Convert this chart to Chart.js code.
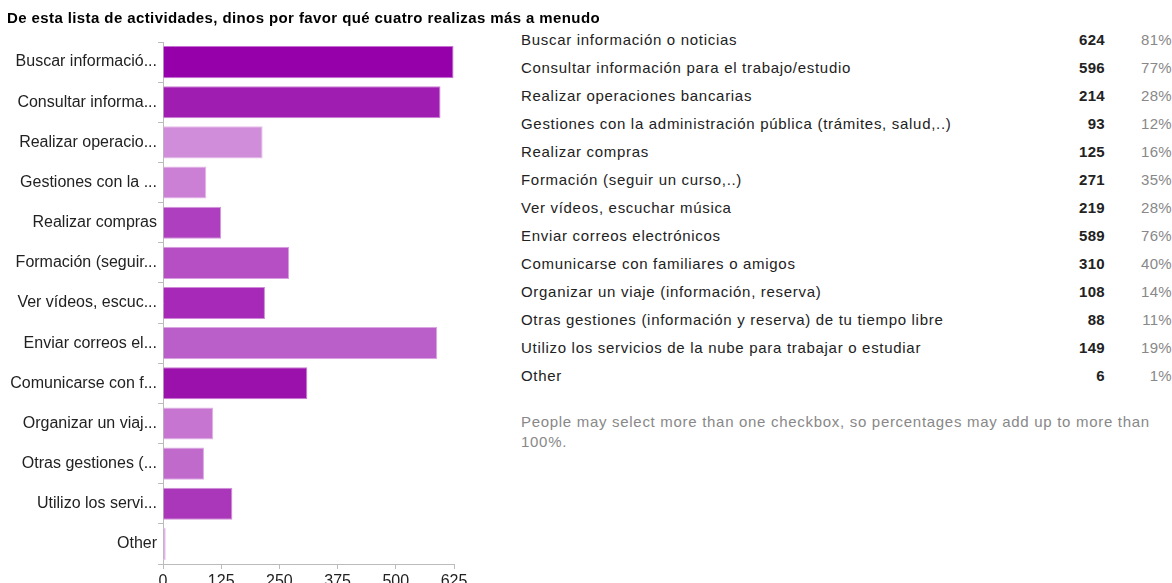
<!DOCTYPE html>
<html>
<head>
<meta charset="utf-8">
<script src="https://cdn.jsdelivr.net/npm/chart.js@4"></script>
<style>
  html, body { margin: 0; padding: 0; background: #fff; width: 1172px; height: 583px; overflow: hidden; font-family: "Liberation Sans", Arial, sans-serif; }
  #title { position: absolute; left: 7px; top: 9px; font-size: 15px; letter-spacing: 0.4px; font-weight: bold; color: #000; z-index: 2; white-space: nowrap; }
  #chartBox { position: absolute; left: 0; top: 0; width: 480px; height: 583px; }
  #table { position: absolute; left: 521px; top: 26px; width: 651px; font-size: 15px; letter-spacing: 0.7px; color: #222; }
  .row { display: flex; height: 28px; line-height: 28px; }
  .lab { flex: 1; white-space: nowrap; }
  .cnt { width: 60px; text-align: right; font-weight: bold; letter-spacing: 0.3px; }
  .pct { width: 67px; text-align: right; color: #888; letter-spacing: 0.3px; }
  #note { margin-top: 22px; color: #888; line-height: 20px; width: 640px; }
</style>
</head>
<body>
<div id="title">De esta lista de actividades, dinos por favor qué cuatro realizas más a menudo</div>
<div id="chartBox"><canvas id="c"></canvas></div>
<div id="table"></div>
<script>
const categories = [
  "Buscar información o noticias",
  "Consultar información para el trabajo/estudio",
  "Realizar operaciones bancarias",
  "Gestiones con la administración pública (trámites, salud,..)",
  "Realizar compras",
  "Formación (seguir un curso,..)",
  "Ver vídeos, escuchar música",
  "Enviar correos electrónicos",
  "Comunicarse con familiares o amigos",
  "Organizar un viaje (información, reserva)",
  "Otras gestiones (información y reserva) de tu tiempo libre",
  "Utilizo los servicios de la nube para trabajar o estudiar",
  "Other"
];
const axisLabels = [
  "Buscar informació...",
  "Consultar informa...",
  "Realizar operacio...",
  "Gestiones con la ...",
  "Realizar compras",
  "Formación (seguir...",
  "Ver vídeos, escuc...",
  "Enviar correos el...",
  "Comunicarse con f...",
  "Organizar un viaj...",
  "Otras gestiones (...",
  "Utilizo los servi...",
  "Other"
];
const counts = [624, 596, 214, 93, 125, 271, 219, 589, 310, 108, 88, 149, 6];
const percents = ["81%", "77%", "28%", "12%", "16%", "35%", "28%", "76%", "40%", "14%", "11%", "19%", "1%"];
const barColors = ["#9600aa", "#a01db1", "#d08dd9", "#cb7fd5", "#ae40bf", "#b64ec4", "#a62ab7", "#ba5ec9", "#9a12ab", "#c676d1", "#c06acc", "#aa36ba", "#d9a2e1"];
const xTicks = [0, 125, 250, 375, 500, 625];
const footnote = "People may select more than one checkbox, so percentages may add up to more than 100%.";

function lighten(hex, f) {
  const n = parseInt(hex.slice(1), 16);
  const r = (n >> 16) & 255, g = (n >> 8) & 255, b = n & 255;
  const m = v => Math.round(v + (255 - v) * f);
  return `rgb(${m(r)},${m(g)},${m(b)})`;
}

// table
const tbl = document.getElementById('table');
categories.forEach((c, i) => {
  const row = document.createElement('div'); row.className = 'row';
  const a = document.createElement('div'); a.className = 'lab'; a.textContent = c;
  const b = document.createElement('div'); b.className = 'cnt'; b.textContent = counts[i];
  const p = document.createElement('div'); p.className = 'pct'; p.textContent = percents[i];
  row.append(a, b, p); tbl.appendChild(row);
});
const note = document.createElement('div'); note.id = 'note'; note.textContent = footnote; tbl.appendChild(note);

new Chart(document.getElementById('c'), {
  type: 'bar',
  data: {
    labels: axisLabels,
    datasets: [{
      data: counts,
      backgroundColor: barColors,
      borderColor: barColors.map(c => lighten(c, 0.45)),
      borderWidth: 1,
      categoryPercentage: 0.8,
      barPercentage: 1.0
    }]
  },
  options: {
    indexAxis: 'y',
    responsive: true,
    maintainAspectRatio: false,
    animation: false,
    layout: { padding: { top: 42, right: 26, bottom: 0, left: 0 } },
    plugins: { legend: { display: false }, tooltip: { enabled: false } },
    scales: {
      x: {
        min: 0, max: 625,
        afterBuildTicks: s => { s.ticks = xTicks.map(v => ({ value: v })); },
        afterFit: s => { s.height = 19; },
        grid: { drawOnChartArea: false, tickLength: 5, color: '#bbb' },
        border: { color: '#bbb' },
        ticks: { color: '#222', font: { family: 'Liberation Sans', size: 16 }, padding: 3, maxRotation: 0 }
      },
      y: {
        afterFit: s => { s.width = 163; },
        grid: { drawOnChartArea: false, tickLength: 5, color: '#bbb' },
        border: { color: '#bbb' },
        ticks: { color: '#222', font: { family: 'Liberation Sans', size: 16 }, padding: 1, autoSkip: false }
      }
    }
  }
});
</script>
</body>
</html>
